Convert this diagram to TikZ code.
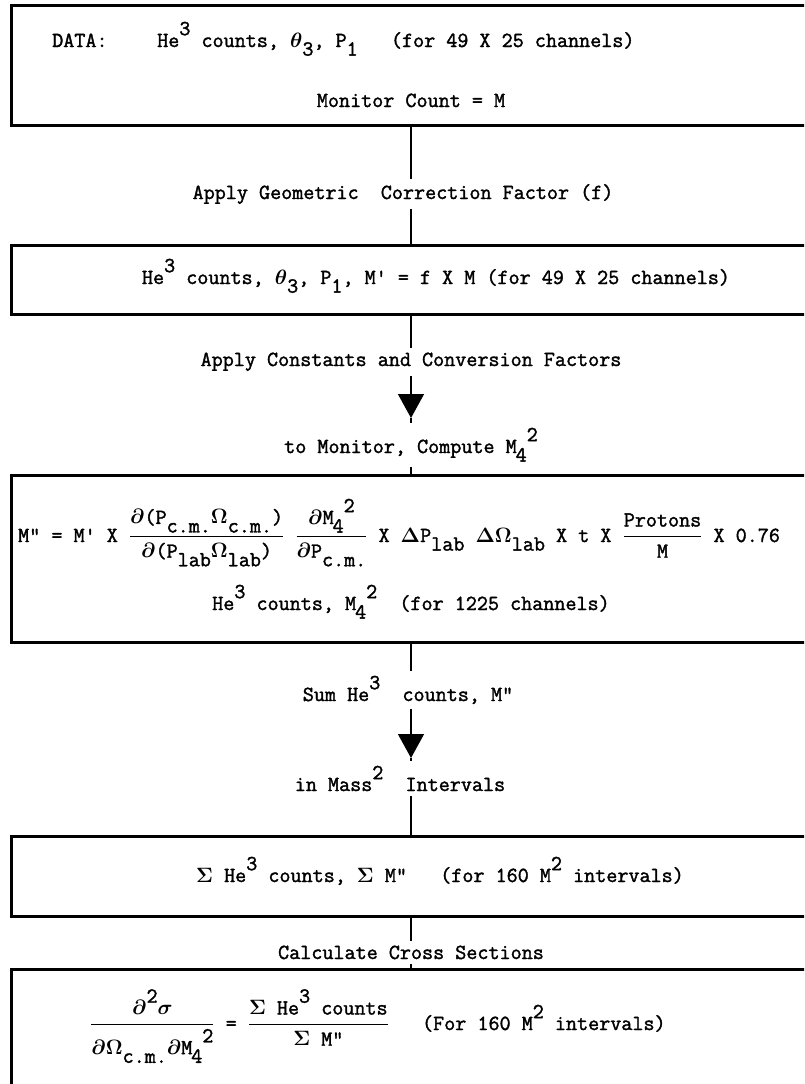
\documentclass[tikz,border=0pt]{standalone}
\usepackage{amsmath}
\usepackage{fontspec}
\setmonofont{Latin Modern Mono}[FakeBold=1.6]
\usepackage{tikz}
\usetikzlibrary{arrows.meta}

% typewriter half-line shifts
\newcommand{\rup}[1]{\raisebox{0.55em}{#1}}
\newcommand{\rdn}[1]{\raisebox{-0.4em}{#1}}
\newcommand{\frc}[2]{$\genfrac{}{}{1.2pt}{0}{\hbox{#1}}{\hbox{#2}}$}
\newcommand{\mfour}{M\kern-0.05em\rdn{4}\rup{2}}

\begin{document}
\begin{tikzpicture}[x=1pt,y=-1pt,
    box/.style={draw,line width=2.8pt,rectangle,anchor=north west,minimum width=840pt,inner sep=0pt},
    txt/.style={font=\ttfamily\boldmath\fontsize{21.5}{25}\selectfont,inner sep=2pt},
    lbl/.style={txt,fill=white,inner xsep=1pt,inner ysep=5pt},
    link/.style={line width=1.4pt},
    flow/.style={link,-{Triangle[width=26pt,length=24pt]}}]
  \useasboundingbox (0,0) rectangle (804,1084);
  \clip (0,0) rectangle (804,1084);

  % the boxes, all cut off at the right
  \node[box,minimum height=120pt] (data) at (10,4) {};
  \node[box,minimum height=69pt] (corr) at (10,244) {};
  \node[box,minimum height=167pt] (conv) at (10,474) {};
  \node[box,minimum height=80pt] (sums) at (10,835) {};
  \node[box,minimum height=160pt] (cross) at (10,968) {};

  % the vertical line the flow runs along
  \coordinate (axis) at (411,0);
  \coordinate (tipA) at (411,418);
  \coordinate (tipB) at (411,758);

  \draw[link] (data.south -| axis) -- (corr.north -| axis);
  \draw[flow] (corr.south -| axis) -- (tipA);
  \draw[link] (tipA) -- (conv.north -| axis);
  \draw[flow] (conv.south -| axis) -- (tipB);
  \draw[link] (tipB) -- (sums.north -| axis);
  \draw[link] (sums.south -| axis) -- (cross.north -| axis);

  % texts in the boxes
  \node[txt,anchor=base west] (dtag) at (50,47) {DATA:};
  \node[txt,anchor=base west] (dval) at (155,47)
    {He\rup{3} counts, $\theta$\rdn{3}, P\rdn{1}\ \ \ (for 49 X 25 channels)};
  \node[txt,anchor=base] (mon) at (411,107) {Monitor Count = M};
  \node[txt,anchor=base] (corrtxt) at (436,284)
    {He\rup{3} counts, $\theta$\rdn{3}, P\rdn{1}, M' = f X M (for 49 X 25 channels)};
  \node[txt,anchor=base west] (formula) at (16,542)
    {M" = M' X \frc{$\partial$(P\rdn{c.m.}$\Omega$\rdn{c.m.})}{$\partial$(P\rdn{lab}$\Omega$\rdn{lab})}
     \frc{$\partial$\mfour}{$\partial$P\rdn{c.m.}}
     X $\Delta$P\rdn{lab} $\Delta\Omega$\rdn{lab} X t X \frc{Protons}{M} X 0.76};
  \node[txt,anchor=base] (chan) at (411,610)
    {He\rup{3} counts, \mfour\ \ (for 1225 channels)};
  \node[txt,anchor=base] (sumtxt) at (440,882)
    {$\Sigma$ He\rup{3} counts, $\Sigma$ M"\ \ \ (for 160 M\rup{2} intervals)};
  \node[txt,anchor=base west] (xsec) at (88,1030)
    {\frc{$\partial$\rup{2}$\sigma$}{$\partial\Omega$\rdn{c.m.}$\partial$\mfour} =
     \frc{$\Sigma$ He\rup{3} counts}{$\Sigma$ M"}\ \ \ (For 160 M\rup{2} intervals)};

  % labels on the flow line
  \node[lbl,anchor=base] (geo) at (403,199) {Apply Geometric\ \ Correction Factor (f)};
  \node[lbl,anchor=base] (const) at (411,366) {Apply Constants and Conversion Factors};
  \node[lbl,anchor=base] (tomon) at (411,453) {to Monitor, Compute \mfour};
  \node[lbl,anchor=base] (sumhe) at (408,701) {Sum He\rup{3}\ \ counts, M"};
  \node[lbl,anchor=base] (mass) at (400,791) {in Mass\rup{2}\ \ Intervals};
  \node[lbl,anchor=base] (calc) at (411,959) {Calculate Cross Sections};
\end{tikzpicture}
\end{document}
